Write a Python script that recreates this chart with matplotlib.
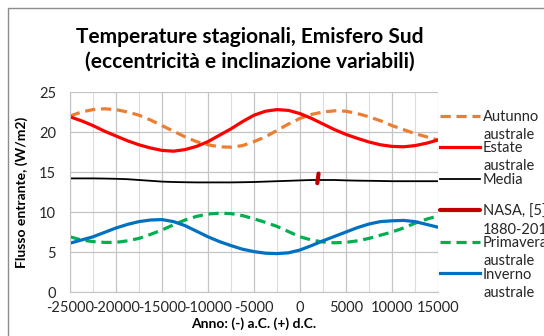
import matplotlib
matplotlib.use('Agg')
import matplotlib.pyplot as plt
from matplotlib.patches import Rectangle

plt.rcParams['font.family'] = ['Lato', 'DejaVu Sans']
plt.rcParams['axes.unicode_minus'] = False

anni = [-25000, -23750, -22500, -21250, -20000, -18750, -17500, -16250, -15000,
        -13750, -12500, -11250, -10000, -8750, -7500, -6250, -5000,
        -3750, -2500, -1250, 0, 1250, 2500, 3750, 5000,
        6250, 7500, 8750, 10000, 11250, 12500, 13750, 15000]

autunno = [22.0, 22.5, 22.8, 22.9, 22.8, 22.5, 22.1, 21.5, 20.8,
           20.1, 19.4, 18.8, 18.4, 18.15, 18.1, 18.3, 18.8,
           19.4, 20.2, 21.0, 21.7, 22.2, 22.5, 22.65, 22.6,
           22.3, 21.9, 21.4, 20.8, 20.3, 19.8, 19.4, 19.0]
estate = [21.9, 21.4, 20.8, 20.1, 19.5, 18.9, 18.4, 18.0, 17.7,
          17.6, 17.8, 18.2, 18.8, 19.6, 20.4, 21.3, 22.1,
          22.6, 22.8, 22.7, 22.3, 21.7, 21.0, 20.3, 19.7,
          19.2, 18.75, 18.4, 18.2, 18.15, 18.3, 18.6, 19.0]
media = [14.2, 14.2, 14.2, 14.18, 14.15, 14.1, 14.0, 13.9, 13.8,
         13.75, 13.72, 13.7, 13.7, 13.7, 13.7, 13.72, 13.75,
         13.8, 13.85, 13.9, 13.95, 14.0, 14.0, 14.0, 13.95,
         13.92, 13.9, 13.88, 13.85, 13.85, 13.85, 13.85, 13.85]
primavera = [6.9, 6.5, 6.3, 6.2, 6.2, 6.4, 6.7, 7.2, 7.75,
             8.4, 9.0, 9.45, 9.75, 9.85, 9.8, 9.55, 9.15,
             8.7, 8.2, 7.55, 6.9, 6.5, 6.25, 6.15, 6.2,
             6.4, 6.7, 7.1, 7.5, 8.0, 8.6, 9.1, 9.5]
inverno = [6.1, 6.5, 6.9, 7.45, 8.0, 8.45, 8.8, 9.0, 9.05,
           8.8, 8.3, 7.6, 6.9, 6.3, 5.8, 5.35, 5.05,
           4.85, 4.8, 4.9, 5.25, 5.8, 6.4, 6.95, 7.5,
           8.05, 8.5, 8.8, 8.9, 8.95, 8.8, 8.45, 8.1]

nasa_anni = [1880, 2018]
nasa = [13.6, 14.8]

voci = ['Autunno', 'Estate', 'Media', 'NASA, [5]', 'Primavera', 'Inverno']
voci_riga2 = ['australe', 'australe', '', '1880-2018', 'australe', 'australe']

W, H = 544, 336
fig = plt.figure(figsize=(W / 100, H / 100), dpi=100)
ax = fig.add_axes([70 / W, 44 / H, 368 / W, 200 / H])

# cornice esterna del grafico
fig.patches.append(Rectangle((8 / W, -0.1), 1.2, 328 / H + 0.1, transform=fig.transFigure,
                             fill=False, edgecolor='#8c8c8c', linewidth=1.0))

ax.plot(anni, autunno, color='#ED7D31', lw=2.3, dashes=(3.2, 1.8), label=voci[0])
ax.plot(anni, estate, color='#FF0000', lw=2.3, label=voci[1])
ax.plot(anni, media, color='black', lw=1.3, label=voci[2])
ax.plot(nasa_anni, nasa, color='#C00000', lw=3, solid_capstyle='round', label=voci[3])
ax.plot(anni, primavera, color='#00B050', lw=2.3, dashes=(3.2, 1.8), label=voci[4])
ax.plot(anni, inverno, color='#0070C0', lw=2.3, label=voci[5])

ax.set_xlim(-25000, 15000)
ax.set_ylim(0, 25)
ax.set_xticks(range(-25000, 15001, 5000))
ax.set_xticks(range(-25000, 15001, 2500), minor=True)
ax.set_yticks(range(0, 26, 5))
ax.grid(which='major', color='#c4c4c4', lw=0.9)
ax.grid(which='minor', axis='x', color='#dcdcdc', lw=0.8)
ax.set_axisbelow(True)
for s in ['top', 'right']:
    ax.spines[s].set_visible(False)
for s in ['left', 'bottom']:
    ax.spines[s].set_color('#c4c4c4')
ax.tick_params(which='both', length=0, labelsize=10.5, labelcolor='#262626')
ax.tick_params(axis='x', pad=6.5)
ax.tick_params(axis='y', pad=10)

ax.set_xlabel('Anno: (-) a.C. (+) d.C.', fontsize=10, fontweight='bold', labelpad=2)
ax.set_ylabel('Flusso entrante, (W/m2)', fontsize=10, fontweight='bold', labelpad=8)

fig.text(250 / W, 1 - 49.5 / H, 'Temperature stagionali, Emisfero Sud\n(eccentricità e inclinazione variabili)',
         ha='center', va='center', fontsize=15, fontweight='bold', linespacing=1.32)

leg = ax.legend(loc='upper left', bbox_to_anchor=(440 / W, 1 - 110 / H),
                bbox_transform=fig.transFigure, frameon=False, fontsize=10.5,
                handlelength=2.75, handletextpad=0.2, labelspacing=1.2,
                borderaxespad=0, borderpad=0)

# seconda riga delle voci di legenda (Excel va a capo)
fig.canvas.draw()
inv = fig.transFigure.inverted()
for t, riga2 in zip(leg.get_texts(), voci_riga2):
    if not riga2:
        continue
    bb = t.get_window_extent()
    x0, y0 = inv.transform((bb.x0, bb.y0 - 18))
    fig.text(x0, y0, riga2, fontsize=10.5, ha='left', va='bottom', color='#262626')
for t in leg.get_texts():
    t.set_color('#262626')

fig.savefig('out.png', dpi=100)
